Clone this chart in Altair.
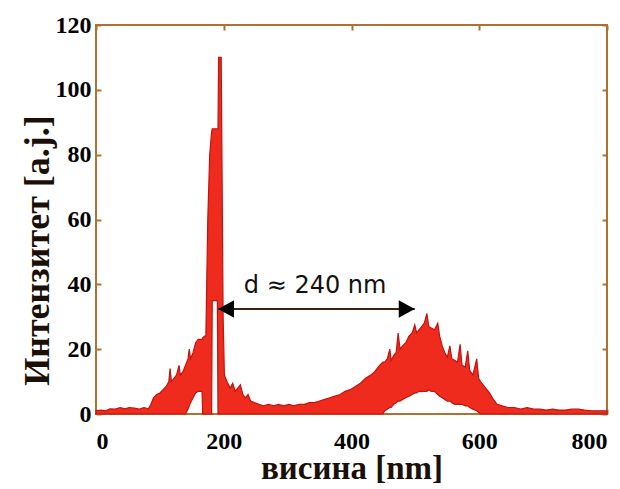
import altair as alt
import pandas as pd

# ---------------- data ----------------
# left part: baseline, left shoulder and the sharp double peak
x_left = [0, 8, 15, 22, 30, 38, 45, 52, 60, 68, 75, 82, 86, 90, 95, 100, 105, 110, 114, 116,
          118, 122, 126, 130, 132, 136, 140, 144, 146, 148, 152, 156, 160, 164, 166, 167, 170, 172, 175, 178,
          181, 182, 190, 191, 192, 196, 199, 201]
up_left = [1.0, 1.2, 1.0, 1.6, 1.5, 2.0, 1.6, 2.0, 1.8, 1.5, 2.0, 1.6, 3, 5, 6, 6.5, 7.5, 8.5, 10, 14,
           10, 11, 12, 15, 12, 13, 15, 17, 20, 17, 19, 22, 23, 23, 23, 23.5, 24, 24, 60, 80,
           87, 88, 88, 88, 110, 110, 30, 12]
lo_left = [0] * 27 + [1.5, 2.5, 3.5, 5, 6.5, 7, 7, 7, 0, 0, 0, 0, 0,
                      0, 35, 35, 0, 0, 0, 0, 0]

# middle baseline
x_mid = [205, 210, 214, 218, 222, 226, 230, 234, 238, 242, 248, 255, 262, 270, 278, 286, 294, 302, 310, 318,
         326, 334, 342, 350, 358, 366, 374, 382, 390, 398, 406, 414, 422, 430]
up_mid = [10, 8, 9.5, 7, 8, 9, 6, 5, 6, 4, 3.5, 3, 2.5, 3, 2.5, 3, 2.5, 3, 2.5, 3,
          3, 3.5, 3.5, 4, 4.5, 5, 5.5, 6, 7, 7.5, 8.5, 9.5, 11, 12]

# broad hump around 520 nm
x_hump = [436, 440, 444, 449, 452, 456, 460, 462, 466, 470, 473, 476, 480, 485, 490, 495, 499, 502, 506, 510,
          514, 518, 521, 525, 530, 535, 538, 542, 546, 550, 554, 557, 562, 566, 570, 573, 578, 582, 585, 590,
          596, 599, 602, 606, 610, 616, 622, 628]
up_hump = [13, 14, 15, 16, 16, 17, 20, 16.5, 18, 19, 25, 20, 21, 22, 24, 25, 27.5, 25, 26, 27,
           28, 31, 27, 26.5, 26, 28, 24, 21, 19, 17.5, 21, 17, 16.5, 16, 21.5, 15, 14.5, 19.5, 13.5, 12,
           17, 11, 10, 9, 8, 6.5, 4.5, 3]
lo_hump = [0, 0, 0, 0, 1, 1.5, 2, 2, 3, 3.5, 4, 4, 4.5, 5, 5.5, 6, 6.5, 6.5, 7, 7,
           7, 7, 7.5, 7, 7, 6, 5.5, 5, 4.5, 4, 4, 3.5, 3, 3, 3, 3, 2.5, 2.5, 2, 1.5,
           1, 0.5, 0, 0, 0, 0, 0, 0]

# right tail
x_tail = [636, 645, 655, 665, 675, 685, 695, 705, 715, 725, 735, 745, 755, 765, 775, 785, 792, 800]
up_tail = [2.5, 2, 2, 1.5, 2, 1.5, 1.5, 1.2, 1.5, 1.2, 1.2, 1.5, 1.5, 1.2, 1.0, 1.0, 1.0, 1.0]

x_nm = x_left + x_mid + x_hump + x_tail
upper = up_left + up_mid + up_hump + up_tail
lower = lo_left + [0] * len(x_mid) + lo_hump + [0] * len(x_tail)

x_ticks = [0, 200, 400, 600, 800]
y_ticks = [0, 20, 40, 60, 80, 100, 120]

arrow_x = [191, 499]
arrow_y = [32.4]
label_text = ["d \u2248 240 nm"]
label_x = [343]
label_y = [39.5]

# ---------------- chart ----------------
df = pd.DataFrame({"x": x_nm, "upper": upper, "lower": lower})
arrow_df = pd.DataFrame({"x0": [arrow_x[0]], "x1": [arrow_x[1]], "y": arrow_y})
left_head = pd.DataFrame({"x": [arrow_x[0]], "y": arrow_y})
right_head = pd.DataFrame({"x": [arrow_x[1]], "y": arrow_y})
label_df = pd.DataFrame({"x": label_x, "y": label_y, "t": label_text})

frame_col = "#b07030"
xscale = alt.Scale(domain=[0, 800], nice=False, zero=False)
yscale = alt.Scale(domain=[0, 120], nice=False, zero=False)

area = alt.Chart(df).mark_area(
    fill="#ef2b1d", stroke="#c0140f", strokeWidth=1.2, interpolate="linear", opacity=1
).encode(
    x=alt.X("x:Q", scale=xscale,
            axis=alt.Axis(orient="bottom", values=x_ticks, title="висина [nm]",
                          labelPadding=15, titleY=69, titleBaseline="alphabetic",
                          titleFontSize=33)),
    y=alt.Y("upper:Q", scale=yscale,
            axis=alt.Axis(orient="left", values=y_ticks, title="Интензитет  [a.j.]",
                          labelPadding=5, titleX=-53, titleY=225, titleAngle=270,
                          titleAlign="center", titleBaseline="alphabetic",
                          titleFontSize=36)),
    y2="lower:Q",
)

rule = alt.Chart(arrow_df).mark_rule(color="#3c2415", strokeWidth=2).encode(
    x=alt.X("x0:Q", scale=xscale,
            axis=alt.Axis(orient="top", values=x_ticks, labels=False, title="")),
    x2="x1:Q",
    y=alt.Y("y:Q", scale=yscale,
            axis=alt.Axis(orient="right", values=y_ticks, labels=False, title="")),
)

lh = alt.Chart(left_head).mark_point(
    shape="M0,0 L2,-1.1 L2,1.1 Z", filled=True, size=256, color="black", opacity=1
).encode(x=alt.X("x:Q", scale=xscale, axis=None), y=alt.Y("y:Q", scale=yscale, axis=None))

rh = alt.Chart(right_head).mark_point(
    shape="M0,0 L-2,-1.1 L-2,1.1 Z", filled=True, size=256, color="black", opacity=1
).encode(x=alt.X("x:Q", scale=xscale, axis=None), y=alt.Y("y:Q", scale=yscale, axis=None))

txt = alt.Chart(label_df).mark_text(
    font="DejaVu Sans", fontSize=24, color="#111111", align="center", baseline="middle"
).encode(x=alt.X("x:Q", scale=xscale, axis=None), y=alt.Y("y:Q", scale=yscale, axis=None), text="t:N")

chart = alt.layer(area, rule, lh, rh, txt).properties(
    width=511, height=389,
    autosize=alt.AutoSizeParams(type="none"),
    padding={"left": 88, "top": 17, "right": 5, "bottom": 73},
).configure_view(
    stroke=frame_col, strokeWidth=2
).configure_axis(
    grid=False, domain=False, tickColor=frame_col, tickSize=5, tickWidth=2, offset=-5,
    labelFont="Liberation Serif", labelFontWeight="bold", labelFontSize=24, labelColor="black",
    titleFont="Liberation Serif", titleFontWeight="bold", titleFontSize=34, titleColor="#1a1008",
)

chart.save("out.html", embed_options={"renderer": "svg", "actions": False})
